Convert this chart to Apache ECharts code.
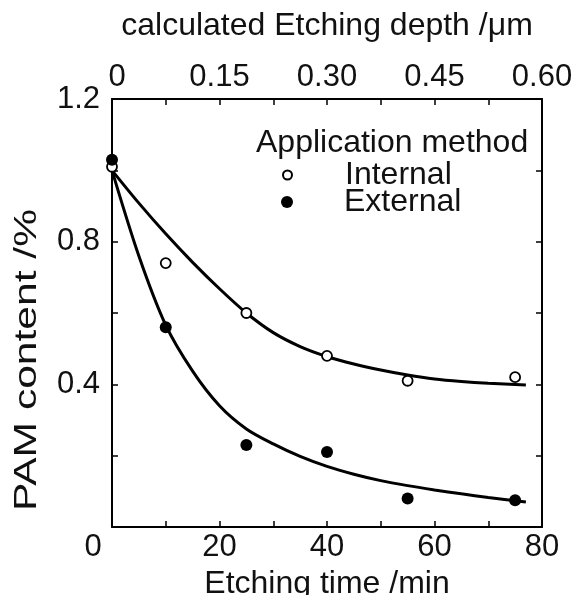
<!DOCTYPE html>
<html>
<head>
<meta charset="utf-8">
<script src="https://cdn.jsdelivr.net/npm/echarts@6/dist/echarts.min.js"></script>
<style>
  html, body { margin: 0; padding: 0; background: #fff; }
  #chart { width: 573px; height: 595px; }
</style>
</head>
<body>
<div id="chart"></div>
<script>
// Measured PAM content vs etching time
const times = [0, 10, 25, 40, 55, 75];
const internalValues = [1.01, 0.74, 0.60, 0.48, 0.41, 0.42];
const externalValues = [1.03, 0.56, 0.23, 0.21, 0.08, 0.075];

// Fitted decay curves (sampled along the drawn trend)
const fitTimes = [0, 5, 10, 15, 20, 25, 30, 35, 40, 45, 50, 55, 60, 65, 70, 77];
const internalFit = [1.00, 0.908, 0.822, 0.742, 0.668, 0.600, 0.545, 0.506, 0.478, 0.457, 0.440, 0.426, 0.415, 0.408, 0.403, 0.398];
const externalFit = [1.00, 0.760, 0.566, 0.437, 0.340, 0.275, 0.233, 0.198, 0.170, 0.148, 0.130, 0.116, 0.104, 0.093, 0.083, 0.070];

// Tick labels
const timeLabels = ['0', '20', '40', '60', '80'];
const depthLabels = ['0', '0.15', '0.30', '0.45', '0.60'];
const contentLabels = ['0.4', '0.8', '1.2'];

const FONT = '"Liberation Sans", Arial, Helvetica, sans-serif';
const INK = '#111';
const MARK = '#000';

const pair = (xs, ys) => xs.map((x, i) => [x, ys[i]]);

const chart = echarts.init(document.getElementById('chart'), null, { renderer: 'canvas' });

function axisBase() {
  return {
    axisLine: { show: true, onZero: false, lineStyle: { color: MARK, width: 2 } },
    axisTick: { show: true, inside: true, length: 6, lineStyle: { color: MARK, width: 1.5 } },
    splitLine: { show: false }
  };
}

chart.setOption({
  backgroundColor: '#fff',
  animation: false,
  grid: { left: 112, right: 31, top: 99, bottom: 68, containLabel: false, outerBoundsMode: 'none' },
  xAxis: [
    Object.assign(axisBase(), {
      type: 'value', position: 'bottom', min: 0, max: 80, interval: 10,
      name: 'Etching time /min', nameLocation: 'middle', nameGap: 40,
      nameTextStyle: { fontFamily: FONT, fontSize: 32, color: INK },
      axisLabel: {
        margin: 5, fontFamily: FONT, fontSize: 31, color: INK,
        formatter: v => {
          const k = Math.round(v / 20);
          if (Math.abs(v - k * 20) > 1e-6) return '';
          return k === 0 ? '{z|' + timeLabels[0] + '}' : timeLabels[k];
        },
        rich: { z: { fontFamily: FONT, fontSize: 31, color: INK, padding: [0, 38, 0, 0] } }
      }
    }),
    Object.assign(axisBase(), {
      type: 'value', position: 'top', min: 0, max: 0.6, interval: 0.075,
      name: 'calculated Etching depth /\u03bcm', nameLocation: 'middle', nameGap: 57,
      nameTextStyle: { fontFamily: FONT, fontSize: 32, color: INK },
      axisLabel: {
        margin: 6, fontFamily: FONT, fontSize: 31, color: INK,
        formatter: v => {
          const k = Math.round(v / 0.075);
          if (k % 2 !== 0) return '';
          return k === 0 ? '{z|' + depthLabels[0] + '}' : depthLabels[k / 2];
        },
        rich: { z: { fontFamily: FONT, fontSize: 31, color: INK, padding: [0, 0, 0, 10] } }
      }
    })
  ],
  yAxis: [
    Object.assign(axisBase(), {
      type: 'value', position: 'left', min: 0, max: 1.2, interval: 0.2,
      axisLabel: {
        margin: 12, fontFamily: FONT, fontSize: 31, color: INK,
        formatter: v => {
          const k = Math.round(v / 0.4);
          if (Math.abs(v - k * 0.4) > 1e-6 || k === 0) return '';
          return contentLabels[k - 1];
        }
      }
    }),
    Object.assign(axisBase(), {
      type: 'value', position: 'right', min: 0, max: 1.2, interval: 0.2,
      axisLabel: { show: false }
    })
  ],
  legend: [
    {
      left: 277, top: 154, orient: 'vertical', itemWidth: 9, itemHeight: 9,
      data: [{ name: 'Internal', icon: 'circle' }],
      textStyle: { fontFamily: FONT, fontSize: 32, color: INK, padding: [0, 0, 0, 48] },
      selectedMode: false
    },
    {
      left: 276, top: 181, orient: 'vertical', itemWidth: 12, itemHeight: 12,
      data: [{ name: 'External', icon: 'circle' }],
      textStyle: { fontFamily: FONT, fontSize: 32, color: INK, padding: [0, 0, 0, 46] },
      selectedMode: false
    }
  ],
  graphic: [
    {
      type: 'text', left: 256, top: 127, silent: true,
      style: { text: 'Application method', font: '32px ' + FONT, fill: INK }
    },
    {
      type: 'text', x: 27, y: 360, rotation: Math.PI / 2, scaleX: 1.33, silent: true,
      style: { text: 'PAM content /%', font: '32px ' + FONT, fill: INK, align: 'center', verticalAlign: 'middle' }
    }
  ],
  series: [
    {
      name: 'Internal fit', type: 'line', xAxisIndex: 0, yAxisIndex: 0,
      data: pair(fitTimes, internalFit), smooth: 0.3, symbol: 'none', z: 2,
      lineStyle: { color: MARK, width: 3 }
    },
    {
      name: 'External fit', type: 'line', xAxisIndex: 0, yAxisIndex: 0,
      data: pair(fitTimes, externalFit), smooth: 0.3, symbol: 'none', z: 2,
      lineStyle: { color: MARK, width: 3 }
    },
    {
      name: 'Internal', type: 'scatter', xAxisIndex: 0, yAxisIndex: 0,
      data: pair(times, internalValues), symbol: 'circle', symbolSize: 10, z: 3,
      itemStyle: { color: '#fff', borderColor: MARK, borderWidth: 1.8, opacity: 1 }
    },
    {
      name: 'External', type: 'scatter', xAxisIndex: 0, yAxisIndex: 0,
      data: pair(times, externalValues), symbol: 'circle', symbolSize: 12, z: 3,
      itemStyle: { color: MARK, borderColor: MARK, borderWidth: 0, opacity: 1 }
    }
  ]
});
</script>
</body>
</html>
